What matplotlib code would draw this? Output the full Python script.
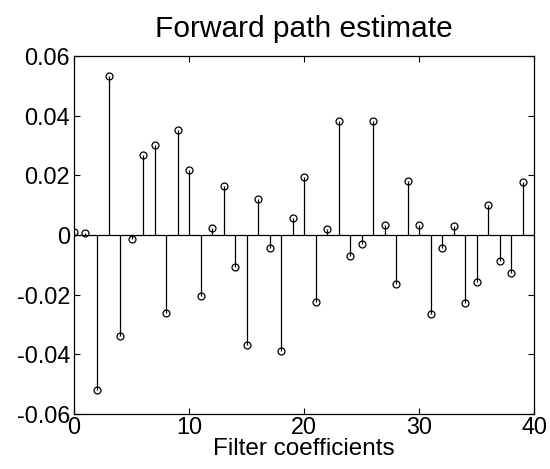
import matplotlib
matplotlib.use("Agg")
import matplotlib.pyplot as plt
import numpy as np

plt.rcParams['font.family'] = ['Liberation Sans', 'DejaVu Sans']

coef_index = list(range(40))
coef_values = [0.001, 0.0005, -0.0519, 0.0535, -0.0340, -0.0015, 0.0267, 0.0302,
               -0.0262, 0.0352, 0.0219, -0.0205, 0.0025, 0.0163, -0.0106, -0.0370,
               0.0122, -0.0045, -0.0388, 0.0057, 0.0195, -0.0225, 0.0020, 0.0384,
               -0.0072, -0.0030, 0.0384, 0.0035, -0.0163, 0.0182, 0.0032, -0.0265,
               -0.0043, 0.0030, -0.0228, -0.0158, 0.0100, -0.0087, -0.0128, 0.0177]
x_ticks = [0, 10, 20, 30, 40]
y_ticks = [-0.06, -0.04, -0.02, 0, 0.02, 0.04, 0.06]
y_ticklabels = ['-0.06', '-0.04', '-0.02', '0', '0.02', '0.04', '0.06']

fig = plt.figure(figsize=(5.5, 4.69), dpi=100)
ax = fig.add_axes([0.1345, 0.118, 0.837, 0.762])

ml, sl, bl = ax.stem(coef_index, coef_values, linefmt='k-', markerfmt='ko', basefmt='k-')
ml.set_markerfacecolor('none')
ml.set_markeredgecolor('black')
ml.set_markersize(5)
ml.set_markeredgewidth(0.9)
sl.set_linewidth(0.9)
bl.set_linewidth(0.9)
bl.set_xdata([0, 40])

ax.set_xlim(0, 40)
ax.set_ylim(-0.06, 0.06)
ax.set_xticks(x_ticks)
ax.set_yticks(y_ticks)
ax.set_yticklabels(y_ticklabels)
ax.tick_params(direction='in', top=True, right=True, labelsize=16.8, length=4, width=0.8, pad=3)
ax.tick_params(axis='x', pad=2)
for s in ax.spines.values():
    s.set_linewidth(0.9)

ax.set_title('Forward path estimate', fontsize=21.5, pad=14)
ax.set_xlabel('Filter coefficients', fontsize=17.5, labelpad=-1)

fig.savefig('out.png', dpi=100)
